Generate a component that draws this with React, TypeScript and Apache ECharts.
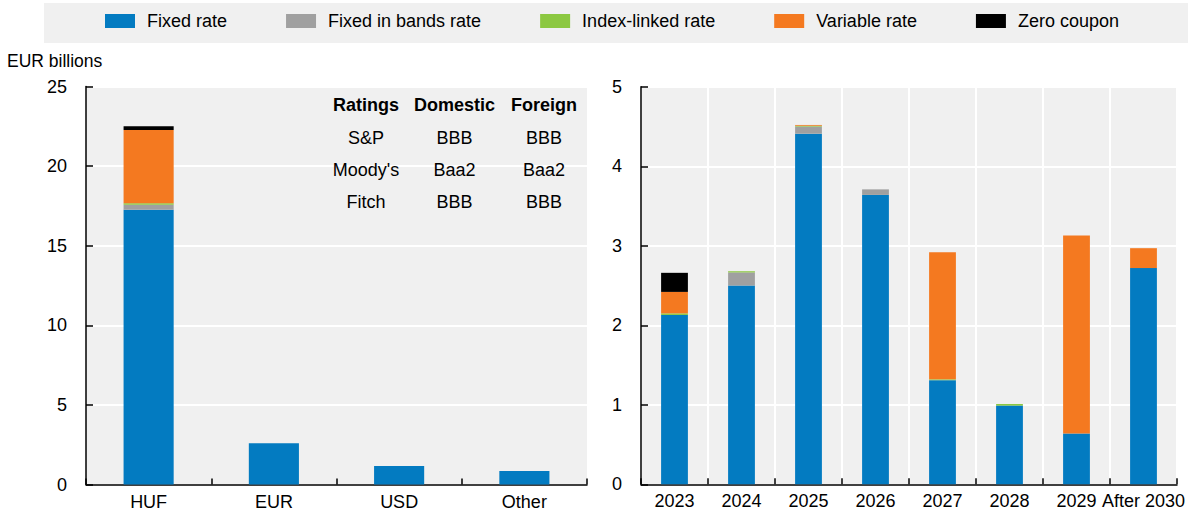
import React, { useEffect, useRef } from "react";
import * as echarts from "echarts";

const seriesNames = ["Fixed rate", "Fixed in bands rate", "Index-linked rate", "Variable rate", "Zero coupon"];
const seriesColors = ["#037BC1", "#A0A0A0", "#8CC841", "#F47920", "#000000"];

const currencyCategories = ["HUF", "EUR", "USD", "Other"];
const currencyFixed = [17.26, 2.59, 1.16, 0.85];
const currencyBands = [0.31, 0, 0, 0];
const currencyIndex = [0.09, 0, 0, 0];
const currencyVariable = [4.6, 0, 0, 0];
const currencyZero = [0.25, 0, 0, 0];

const yearCategories = ["2023", "2024", "2025", "2026", "2027", "2028", "2029", "After 2030"];
const yearFixed = [2.13, 2.5, 4.41, 3.64, 1.31, 0.99, 0.64, 2.72];
const yearBands = [0, 0.165, 0.09, 0.07, 0, 0, 0, 0];
const yearIndex = [0.02, 0.015, 0.01, 0, 0.01, 0.02, 0, 0];
const yearVariable = [0.27, 0, 0.01, 0, 1.6, 0, 2.49, 0.25];
const yearZero = [0.24, 0, 0, 0, 0, 0, 0, 0];

const leftTicks = { min: 0, max: 25, interval: 5 };
const rightTicks = { min: 0, max: 5, interval: 1 };

const ratingsHeader = ["Ratings", "Domestic", "Foreign"];
const ratingsRows = [
  ["S&P", "BBB", "BBB"],
  ["Moody's", "Baa2", "Baa2"],
  ["Fitch", "BBB", "BBB"],
];
const unitLabel = "EUR billions";

const FONT = "'Liberation Sans', Arial, sans-serif";

export default function App() {
  const ref = useRef<HTMLDivElement>(null);
  useEffect(() => {
    document.body.style.margin = "0";
    document.body.style.overflow = "hidden";
    const chart = echarts.init(ref.current!, null, { renderer: "svg" });

    const leftData = [currencyFixed, currencyBands, currencyIndex, currencyVariable, currencyZero];
    const rightData = [yearFixed, yearBands, yearIndex, yearVariable, yearZero];

    const axisLine = { show: true, onZero: false, lineStyle: { color: "#000", width: 1.5 } };
    const axisTick = { show: true, inside: true, length: 6, lineStyle: { color: "#000", width: 1.5 } };
    const splitLine = { show: true, lineStyle: { color: "#fff", width: 2 } };
    const axisLabel = { color: "#000", fontSize: 18, fontFamily: FONT };

    const series: any[] = [];
    seriesNames.forEach((name, i) => {
      series.push({
        name,
        type: "bar",
        stack: "left",
        xAxisIndex: 0,
        yAxisIndex: 0,
        barWidth: "40%",
        itemStyle: { color: seriesColors[i] },
        data: leftData[i],
      });
      series.push({
        name,
        type: "bar",
        stack: "right",
        xAxisIndex: 1,
        yAxisIndex: 1,
        barWidth: "40%",
        itemStyle: { color: seriesColors[i] },
        data: rightData[i],
      });
    });

    const colX = [366, 454.5, 544];
    const rowY = [105, 138, 170, 202];
    const tableTexts: any[] = [];
    ratingsHeader.forEach((t, c) => {
      tableTexts.push({
        type: "text",
        x: colX[c],
        y: rowY[0],
        z: 10,
        style: { text: t, fill: "#000", fontSize: 18, fontWeight: "bold", fontFamily: FONT, textAlign: "center", textVerticalAlign: "middle" },
      });
    });
    ratingsRows.forEach((row, r) => {
      row.forEach((t, c) => {
        tableTexts.push({
          type: "text",
          x: colX[c],
          y: rowY[r + 1],
          z: 10,
          style: { text: t, fill: "#000", fontSize: 18, fontFamily: FONT, textAlign: "center", textVerticalAlign: "middle" },
        });
      });
    });

    chart.setOption({
      animation: false,
      backgroundColor: "#fff",
      textStyle: { fontFamily: FONT },
      legend: {
        data: seriesNames,
        left: 105,
        top: 11,
        padding: 0,
        itemWidth: 30,
        itemHeight: 14,
        itemGap: 59,
        icon: "rect",
        textStyle: { color: "#000", fontSize: 18, fontFamily: FONT, lineHeight: 20, padding: [0, 0, 0, 7] },
        z: 5,
      },
      graphic: [
        {
          type: "rect",
          z: 0,
          shape: { x: 44, y: 3, width: 1144, height: 40 },
          style: { fill: "#f0f0f0" },
        },
        {
          type: "text",
          x: 7,
          y: 61,
          style: { text: unitLabel, fill: "#000", fontSize: 17.5, fontFamily: FONT, textVerticalAlign: "middle" },
        },
        ...tableTexts,
      ],
      grid: [
        { left: 86, right: 607, top: 86.5, bottom: 31.5, show: true, backgroundColor: "#f0f0f0", borderWidth: 0 },
        { left: 641, right: 17, top: 86.8, bottom: 31.7, show: true, backgroundColor: "#f0f0f0", borderWidth: 0 },
      ],
      xAxis: [
        {
          type: "category",
          gridIndex: 0,
          data: currencyCategories,
          axisLine,
          axisTick,
          axisLabel: { ...axisLabel, margin: 8, interval: 0 },
          splitLine: { show: false },
        },
        {
          type: "category",
          gridIndex: 1,
          data: yearCategories,
          axisLine,
          axisTick,
          axisLabel: { ...axisLabel, margin: 8, interval: 0 },
          splitLine: { ...splitLine, interval: 0 },
        },
      ],
      yAxis: [
        {
          type: "value",
          gridIndex: 0,
          ...leftTicks,
          axisLine,
          axisTick: { ...axisTick, length: 7 },
          axisLabel: { ...axisLabel, margin: 19 },
          splitLine,
        },
        {
          type: "value",
          gridIndex: 1,
          ...rightTicks,
          axisLine,
          axisTick: { ...axisTick, length: 7 },
          axisLabel: { ...axisLabel, margin: 19 },
          splitLine,
        },
      ],
      series,
    });
    return () => chart.dispose();
  }, []);
  return <div ref={ref} style={{ width: 1194, height: 516 }} />;
}
